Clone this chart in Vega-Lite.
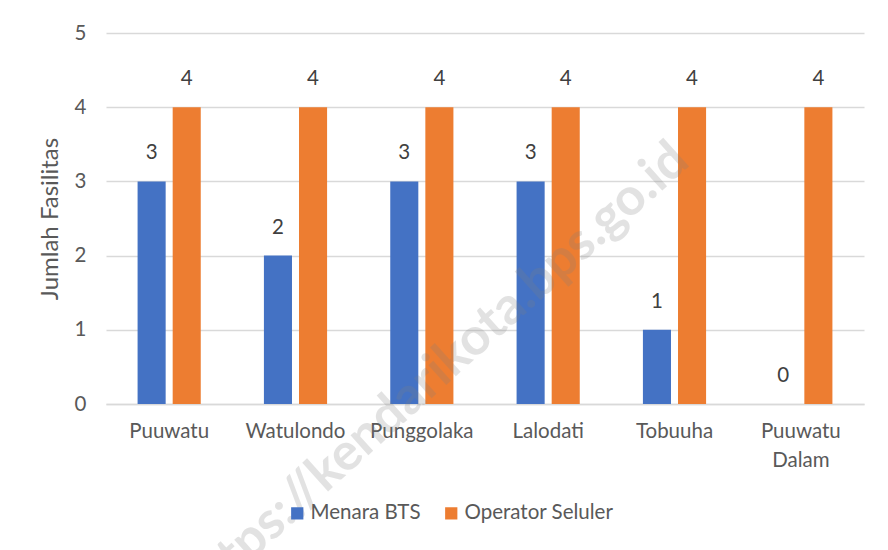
{
  "$schema": "https://vega.github.io/schema/vega-lite/v6.json",
  "width": 758,
  "height": 371,
  "autosize": {"type": "none"},
  "padding": {"left": 106, "top": 33, "right": 24, "bottom": 146},
  "background": "white",
  "config": {
    "font": "Lato",
    "view": {"stroke": null},
    "axis": {"labelFont": "Lato", "titleFont": "Lato", "labelColor": "#595959", "titleColor": "#595959"},
    "legend": {"labelFont": "Lato"}
  },
  "datasets": {
    "bars": [
      {"Kelurahan": "Puuwatu", "Seri": "Menara BTS", "Jumlah": 3},
      {"Kelurahan": "Puuwatu", "Seri": "Operator Seluler", "Jumlah": 4},
      {"Kelurahan": "Watulondo", "Seri": "Menara BTS", "Jumlah": 2},
      {"Kelurahan": "Watulondo", "Seri": "Operator Seluler", "Jumlah": 4},
      {"Kelurahan": "Punggolaka", "Seri": "Menara BTS", "Jumlah": 3},
      {"Kelurahan": "Punggolaka", "Seri": "Operator Seluler", "Jumlah": 4},
      {"Kelurahan": "Lalodati", "Seri": "Menara BTS", "Jumlah": 3},
      {"Kelurahan": "Lalodati", "Seri": "Operator Seluler", "Jumlah": 4},
      {"Kelurahan": "Tobuuha", "Seri": "Menara BTS", "Jumlah": 1},
      {"Kelurahan": "Tobuuha", "Seri": "Operator Seluler", "Jumlah": 4},
      {"Kelurahan": "Puuwatu Dalam", "Seri": "Menara BTS", "Jumlah": 0},
      {"Kelurahan": "Puuwatu Dalam", "Seri": "Operator Seluler", "Jumlah": 4}
    ],
    "mark": [
      {"Kelurahan": "Punggolaka", "Jumlah": 0.16, "Teks": "https://kendarikota.bps.go.id"}
    ]
  },
  "encoding": {
    "x": {
      "field": "Kelurahan", "type": "nominal",
      "sort": ["Puuwatu", "Watulondo", "Punggolaka", "Lalodati", "Tobuuha", "Puuwatu Dalam"],
      "scale": {"domain": ["Puuwatu", "Watulondo", "Punggolaka", "Lalodati", "Tobuuha", "Puuwatu Dalam"], "paddingInner": 0.5, "paddingOuter": 0.25},
      "axis": {
        "title": null, "labelAngle": 0, "tickSize": 0, "domainColor": "#d9d9d9", "domainWidth": 1.5,
        "labelFontSize": 20.5, "labelPadding": 17, "labelLineHeight": 29, "labelBaseline": "top",
        "labelExpr": "datum.label == 'Puuwatu Dalam' ? ['Puuwatu', 'Dalam'] : datum.label"
      }
    },
    "y": {
      "field": "Jumlah", "type": "quantitative",
      "scale": {"domain": [0, 5], "nice": false},
      "axis": {
        "title": "Jumlah Fasilitas", "values": [0, 1, 2, 3, 4, 5], "grid": true, "gridColor": "#d9d9d9", "gridWidth": 1.5,
        "domain": false, "ticks": false, "labelFontSize": 20.5, "labelPadding": 20,
        "titleFontSize": 24, "titleFontWeight": "normal", "titlePadding": 12
      }
    }
  },
  "layer": [
    {
      "data": {"name": "bars"},
      "encoding": {
        "xOffset": {"field": "Seri", "type": "nominal", "scale": {"paddingInner": 0.2, "paddingOuter": 0}}
      },
      "layer": [
        {
          "mark": {"type": "bar"},
          "encoding": {
            "color": {
              "field": "Seri", "type": "nominal",
              "scale": {"domain": ["Menara BTS", "Operator Seluler"], "range": ["#4472C4", "#ED7D31"]},
              "legend": {
                "title": null, "orient": "none", "direction": "horizontal",
                "legendX": 181, "legendY": 470,
                "symbolType": "square", "symbolSize": 150, "symbolStrokeWidth": 0,
                "labelFontSize": 20.5, "labelColor": "#595959", "columnPadding": 20, "labelOffset": 3
              }
            }
          }
        },
        {
          "mark": {"type": "text", "baseline": "middle", "dy": -28, "fontSize": 20.5, "color": "#404040"},
          "encoding": {"text": {"field": "Jumlah", "type": "quantitative"}}
        }
      ]
    },
    {
      "data": {"name": "mark"},
      "mark": {"type": "text", "angle": -42, "fontSize": 52, "fontWeight": "bold", "color": "#808080", "opacity": 0.22, "dx": 23, "dy": -5, "clip": false},
      "encoding": {
        "text": {"field": "Teks"}
      }
    }
  ]
}
